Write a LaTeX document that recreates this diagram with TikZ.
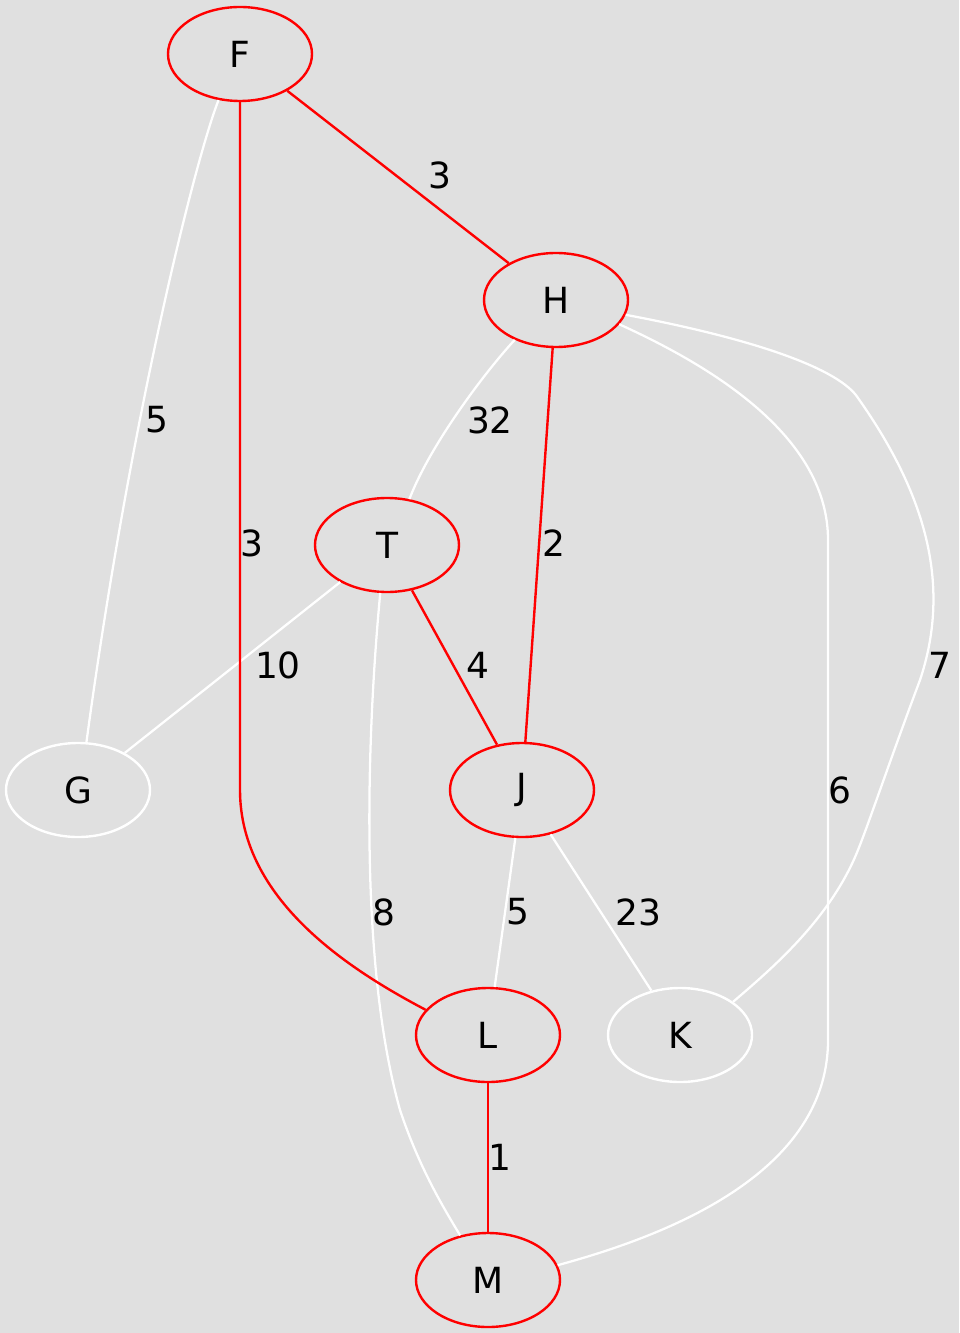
\documentclass[tikz,border=0pt]{standalone}
\usepackage{fontspec}
\setmainfont{DejaVu Sans}
\usetikzlibrary{shapes.geometric}
\definecolor{bggray}{HTML}{E0E0E0}
\tikzset{
  vert/.style={ellipse, draw, line width=1.8pt, minimum width=108pt, minimum height=70.5pt, inner sep=0pt},
  redvert/.style={vert, draw=red},
  whitevert/.style={vert, draw=white},
  redline/.style={draw=red, line width=1.8pt},
  whiteline/.style={draw=white, line width=1.7pt},
  weight/.style={inner sep=0pt}
}
\begin{document}
\begin{tikzpicture}[x=0.75pt, y=-0.75pt, every node/.style={font=\fontsize{27}{32}\selectfont}]
  \fill[bggray] (0,0) rectangle (959,1333);
  \useasboundingbox (0,0) rectangle (959,1333);

  % vertices
  \node[redvert] (F) at (240,54) {F};
  \node[redvert] (H) at (556,300) {H};
  \node[redvert] (T) at (387,545) {T};
  \node[whitevert] (G) at (78,790) {G};
  \node[redvert] (J) at (522,790) {J};
  \node[redvert] (L) at (488,1035) {L};
  \node[whitevert] (K) at (680,1035) {K};
  \node[redvert] (M) at (488,1280) {M};

  % white edges
  \draw[whiteline] (F.-115) .. controls (195,160) and (130,420) .. (G.80);
  \draw[whiteline] (H.-136) .. controls (485,372) and (430,445) .. (T.64);
  \draw[whiteline] (H.-21) .. controls (720,370) and (828,440) .. (828,540)
    -- (828,1040) .. controls (828,1180) and (650,1240) .. (M.12);
  \draw[whiteline] (H.-12) .. controls (760,340) and (840,370) .. (858,398)
    .. controls (930,500) and (950,590) .. (920,680)
    .. controls (890,760) and (870,820) .. (858,850)
    .. controls (830,920) and (770,970) .. (K.32);
  \draw[whiteline] (T) -- (G);
  \draw[whiteline] (T.-98) .. controls (370,700) and (355,950) .. (400,1110)
    .. controls (420,1170) and (445,1210) .. (M.122);
  \draw[whiteline] (J) -- (L);
  \draw[whiteline] (J) -- (K);

  % red edges
  \draw[redline] (F) -- (H);
  \draw[redline] (F.south) -- (F.south |- G) .. controls +(0,110) and (350,970) .. (L.158);
  \draw[redline] (H) -- (J);
  \draw[redline] (T) -- (J);
  \draw[redline] (L) -- (M);

  % weights
  \node[weight] (wFH) at (440,175) {3};
  \node[weight] (wFG) at (157,420) {5};
  \node[weight] (wFL) at (252,543) {3};
  \node[weight] (wHT) at (490,420) {32};
  \node[weight] (wHJ) at (554,543) {2};
  \node[weight] (wHM) at (840,790) {6};
  \node[weight] (wHK) at (940,665) {7};
  \node[weight] (wTG) at (278,665) {10};
  \node[weight] (wTJ) at (478,665) {4};
  \node[weight] (wTM) at (384,912) {8};
  \node[weight] (wJL) at (518,912) {5};
  \node[weight] (wJK) at (638,912) {23};
  \node[weight] (wLM) at (500,1157) {1};
\end{tikzpicture}
\end{document}
